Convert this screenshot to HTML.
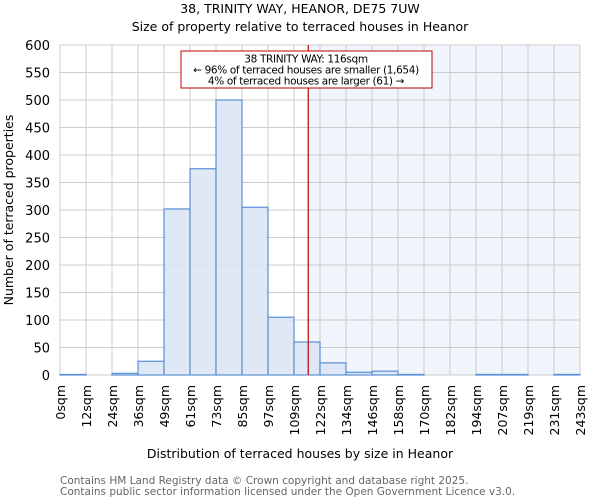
<!DOCTYPE html>
<html><head><meta charset="utf-8"><style>
body{margin:0;background:#fff;font-family:"DejaVu Sans","Liberation Sans",sans-serif}
</style></head><body>
<svg width="600" height="500" xmlns="http://www.w3.org/2000/svg" font-family="DejaVu Sans, Liberation Sans, sans-serif">
<text x="300" y="13" text-anchor="middle" font-size="12.5">38, TRINITY WAY, HEANOR, DE75 7UW</text>
<text x="300" y="31" text-anchor="middle" font-size="12.5">Size of property relative to terraced houses in Heanor</text>
<g id="plot"></g>
<text x="300" y="458" text-anchor="middle" font-size="12.5">Distribution of terraced houses by size in Heanor</text>
<text transform="translate(13,210) rotate(-90)" text-anchor="middle" font-size="12.5">Number of terraced properties</text>
<text x="60" y="484" font-size="10.5" fill="#666">Contains HM Land Registry data © Crown copyright and database right 2025.</text>
<text x="60" y="495" font-size="10.5" fill="#666">Contains public sector information licensed under the Open Government Licence v3.0.</text>
</svg>
<script>
const categories=["0sqm","12sqm","24sqm","36sqm","49sqm","61sqm","73sqm","85sqm","97sqm","109sqm","122sqm","134sqm","146sqm","158sqm","170sqm","182sqm","194sqm","207sqm","219sqm","231sqm","243sqm"];
const counts=[1,0,3,25,302,375,500,305,105,60,22,5,7,1,0,0,1,1,0,1];
const yTicks=[0,50,100,150,200,250,300,350,400,450,500,550,600];
const propertySize=116;
const binStart=0, binWidth=12.15;
const L=60,R=580,T=45,B=375,yMax=600;
const NS="http://www.w3.org/2000/svg";
const g=document.getElementById('plot');
const n=counts.length;
const xs=i=>L+(R-L)*i/n;
const xv=v=>L+(R-L)*(v-binStart)/(binWidth*n);
const y=v=>B-(B-T)*v/yMax;
function mk(t,a,p){const e=document.createElementNS(NS,t);for(const k in a)e.setAttribute(k,a[k]);(p||g).appendChild(e);return e;}
const rx=xv(propertySize);
let sh=mk('rect',{x:rx,y:T,width:R-rx,height:B-T,fill:'#eef2fb',opacity:0.8});


for(let i=0;i<=n;i++){let l=mk('line',{x1:xs(i),x2:xs(i),y1:T,y2:B,stroke:'#cccccc'});

}
yTicks.forEach(t=>{let l=mk('line',{x1:L,x2:R,y1:y(t),y2:y(t),stroke:'#cccccc'});


let tx=mk('text',{x:L-10,y:y(t)+5,'text-anchor':'end','font-size':13});tx.textContent=t;

});
counts.forEach((c,i)=>{let r=mk('rect',{x:xs(i),y:y(c),width:xs(i+1)-xs(i),height:B-y(c),fill:'#dce6f4',stroke:'#5b8fd6','stroke-width':1.2,'fill-opacity':0.9});

});
categories.forEach((c,i)=>{let tx=mk('text',{transform:`translate(${xs(i)+5},${B+10}) rotate(-90)`,'text-anchor':'end','font-size':12.5});tx.textContent=c;

});
let rl=mk('line',{x1:rx,x2:rx,y1:T,y2:B,stroke:'#c00000','stroke-width':1.2});


let bx=mk('rect',{x:181,y:51,width:251,height:37,fill:'#fff',stroke:'#c00000'});


["38 TRINITY WAY: 116sqm","← 96% of terraced houses are smaller (1,654)","4% of terraced houses are larger (61) →"].forEach((s,i)=>{let tx=mk('text',{x:306,y:62.5+i*11,'text-anchor':'middle','font-size':10.5,'letter-spacing':-0.35});tx.textContent=s;

});
</script>
</body></html>
